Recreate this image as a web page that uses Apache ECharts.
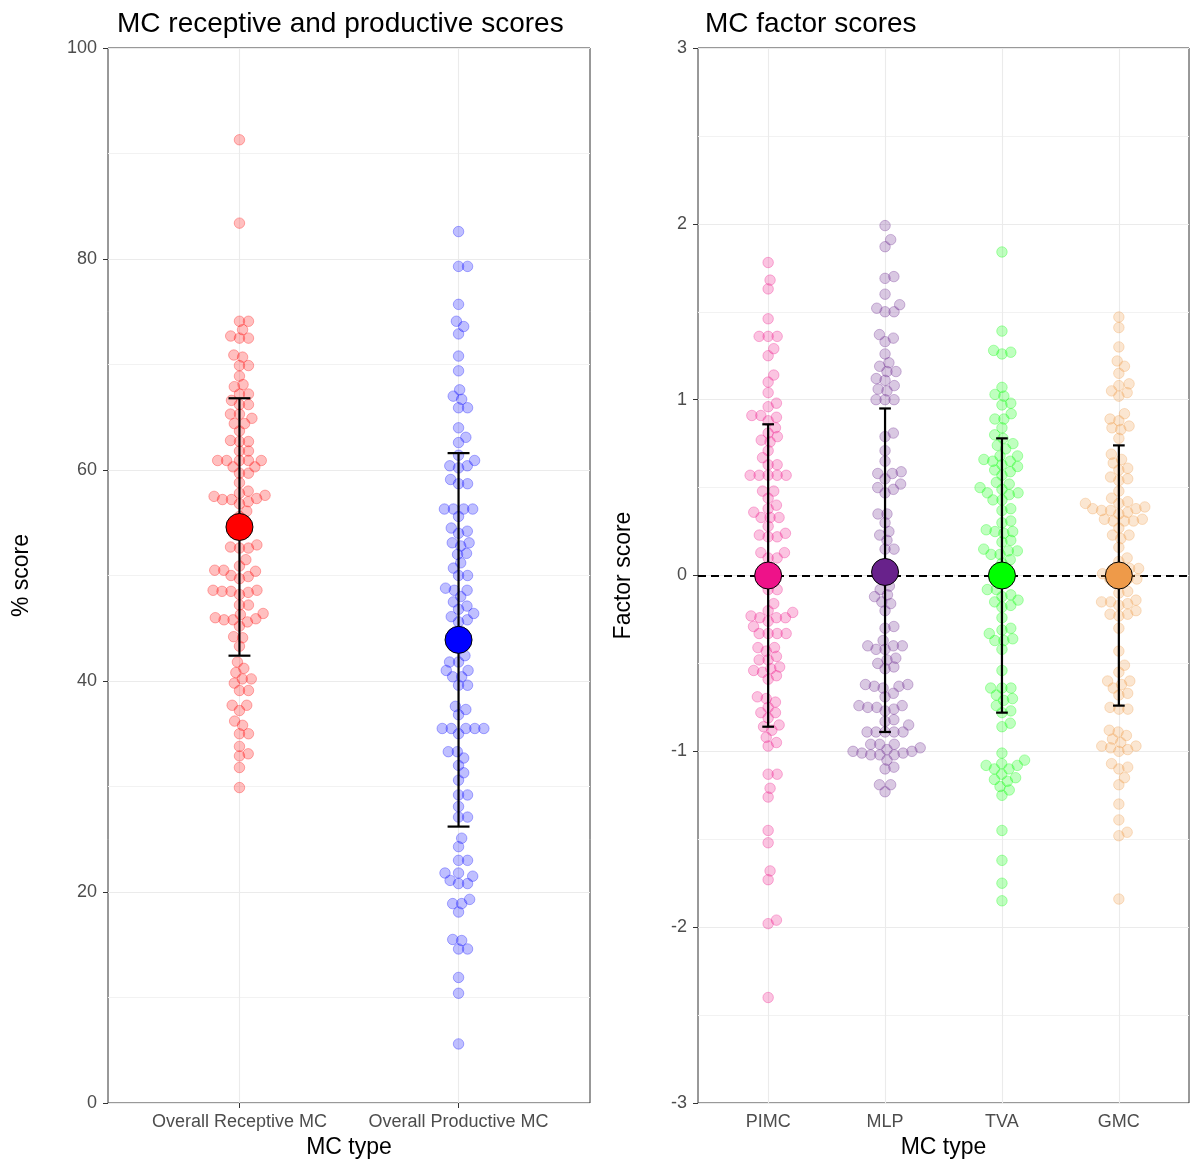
<!DOCTYPE html>
<html>
<head>
<meta charset="utf-8">
<script src="https://cdn.jsdelivr.net/npm/echarts@6/dist/echarts.min.js"></script>
<style>
  html, body { margin: 0; padding: 0; background: #fff; }
  #chart { width: 1190px; height: 1159px; }
</style>
</head>
<body>
<div id="chart"></div>
<script>
// ---- data ----
const leftCategories = ['Overall Receptive MC', 'Overall Productive MC']
const rightCategories = ['PIMC', 'MLP', 'TVA', 'GMC']

const receptiveScores = [91.3, 83.4, 74.1, 74.1, 73.3, 72.7, 72.5, 72.5, 70.9, 70.7, 69.9, 69.9, 68.9, 68.1, 67.9,
  67.2, 67.2, 66.6, 66.2, 66.2, 65.3, 65.3, 64.9, 64.4, 64.4, 63.7, 62.8, 62.7, 62.7, 61.8, 61.8, 60.9, 60.9, 60.9,
  60.9, 60.9, 60.3, 60.3, 59.7, 59.7, 58.8, 58.0, 57.8, 57.6, 57.5, 57.3, 57.2, 57.2, 57.0, 56.8, 56.1, 55.6, 52.9,
  52.7, 52.6, 52.6, 51.5, 50.9, 50.5, 50.5, 50.4, 50.0, 49.9, 49.7, 48.6, 48.6, 48.5, 48.5, 48.4, 48.2, 47.2, 47.2,
  46.4, 46.3, 46.0, 45.9, 45.8, 45.8, 45.6, 45.2, 44.2, 44.1, 43.3, 41.8, 41.2, 40.8, 40.2, 40.2, 39.8, 39.1, 39.1,
  37.7, 37.7, 37.2, 36.2, 35.8, 35.0, 35.0, 33.8, 33.1, 32.9, 31.8, 29.9]
const productiveScores = [82.6, 79.3, 79.3, 75.7, 74.1, 73.6, 72.9, 70.8, 69.4, 67.6, 67.0, 66.7, 65.9, 65.9, 64.0,
  63.1, 62.6, 61.4, 60.9, 60.4, 60.4, 60.2, 59.1, 58.7, 58.7, 56.3, 56.3, 56.3, 56.3, 55.6, 54.5, 54.2, 54.0, 53.1,
  53.1, 52.8, 52.1, 52.0, 51.2, 50.7, 50.0, 50.0, 48.8, 48.6, 48.6, 48.0, 47.5, 47.1, 46.8, 46.4, 46.1, 45.8, 45.6,
  42.4, 41.8, 41.8, 41.0, 41.0, 40.4, 40.4, 39.6, 39.6, 37.6, 37.3, 36.8, 35.5, 35.5, 35.5, 35.5, 35.5, 35.0, 33.3,
  33.3, 32.7, 32.0, 31.3, 30.6, 29.2, 29.2, 28.1, 27.1, 27.1, 25.1, 24.3, 23.0, 23.0, 21.8, 21.8, 21.5, 21.1, 20.8,
  20.8, 19.3, 18.9, 18.9, 18.1, 15.5, 15.4, 14.6, 14.6, 11.9, 10.4, 5.6]

const pimcScores = [1.78, 1.68, 1.63, 1.46, 1.36, 1.36, 1.36, 1.29, 1.25, 1.14, 1.10, 1.04, 0.98, 0.96, 0.91, 0.91,
  0.90, 0.88, 0.84, 0.81, 0.79, 0.77, 0.76, 0.71, 0.67, 0.63, 0.63, 0.57, 0.57, 0.57, 0.57, 0.57, 0.48, 0.48, 0.44,
  0.40, 0.38, 0.36, 0.33, 0.33, 0.33, 0.28, 0.24, 0.23, 0.22, 0.22, 0.13, 0.13, 0.10, 0.10, -0.02, -0.03, -0.08,
  -0.08, -0.16, -0.20, -0.21, -0.23, -0.24, -0.24, -0.24, -0.26, -0.29, -0.33, -0.33, -0.33, -0.33, -0.41, -0.41,
  -0.43, -0.46, -0.48, -0.48, -0.52, -0.53, -0.54, -0.55, -0.57, -0.59, -0.69, -0.70, -0.72, -0.75, -0.78, -0.78,
  -0.81, -0.85, -0.86, -0.88, -0.92, -0.95, -0.97, -1.13, -1.13, -1.21, -1.26, -1.45, -1.52, -1.68, -1.73, -1.96,
  -1.98, -2.40]
const mlpScores = [1.99, 1.91, 1.87, 1.70, 1.69, 1.60, 1.54, 1.52, 1.50, 1.50, 1.37, 1.35, 1.33, 1.26, 1.21, 1.19,
  1.16, 1.16, 1.12, 1.11, 1.08, 1.06, 1.05, 1.00, 1.00, 1.00, 0.81, 0.79, 0.71, 0.65, 0.59, 0.58, 0.58, 0.55, 0.52,
  0.50, 0.49, 0.47, 0.35, 0.35, 0.30, 0.25, 0.23, 0.20, 0.15, 0.15, -0.06, -0.08, -0.11, -0.12, -0.15, -0.16,
  -0.20, -0.29, -0.30, -0.37, -0.40, -0.40, -0.40, -0.42, -0.42, -0.47, -0.48, -0.50, -0.52, -0.53, -0.62, -0.62,
  -0.63, -0.63, -0.64, -0.67, -0.69, -0.74, -0.74, -0.75, -0.75, -0.76, -0.77, -0.82, -0.83, -0.85, -0.89, -0.89,
  -0.89, -0.89, -0.89, -0.96, -0.96, -0.96, -0.98, -0.99, -1.00, -1.00, -1.01, -1.01, -1.02, -1.02, -1.02, -1.05,
  -1.09, -1.10, -1.19, -1.19, -1.23]
const tvaScores = [1.84, 1.39, 1.28, 1.27, 1.26, 1.07, 1.03, 1.02, 0.98, 0.97, 0.92, 0.89, 0.89, 0.84, 0.80, 0.78,
  0.75, 0.74, 0.72, 0.68, 0.68, 0.66, 0.65, 0.65, 0.63, 0.62, 0.60, 0.59, 0.57, 0.53, 0.52, 0.49, 0.50, 0.47, 0.47,
  0.46, 0.43, 0.43, 0.37, 0.38, 0.31, 0.30, 0.26, 0.24, 0.25, 0.25, 0.20, 0.19, 0.14, 0.14, 0.12, 0.09, 0.12, 0.15,
  0.07, -0.11, -0.12, -0.08, -0.08, -0.14, -0.15, -0.17, -0.18, -0.24, -0.30, -0.31, -0.33, -0.36, -0.37, -0.37,
  -0.42, -0.54, -0.64, -0.64, -0.64, -0.68, -0.70, -0.71, -0.74, -0.77, -0.78, -0.84, -0.86, -1.01, -1.05, -1.07,
  -1.08, -1.08, -1.10, -1.10, -1.13, -1.15, -1.16, -1.17, -1.20, -1.22, -1.25, -1.45, -1.62, -1.75, -1.85]
const gmcScores = [1.47, 1.41, 1.30, 1.22, 1.19, 1.15, 1.09, 1.08, 1.05, 1.04, 1.02, 0.92, 0.89, 0.88, 0.85, 0.84,
  0.83, 0.78, 0.69, 0.66, 0.64, 0.61, 0.60, 0.56, 0.55, 0.54, 0.48, 0.42, 0.44, 0.41, 0.41, 0.39, 0.38, 0.37, 0.37,
  0.38, 0.36, 0.35, 0.32, 0.32, 0.31, 0.31, 0.31, 0.27, 0.23, 0.23, 0.21, 0.16, 0.10, 0.08, 0.04, 0.03, 0.04, 0.03,
  0.01, -0.02, -0.02, -0.02, -0.02, -0.09, -0.10, -0.14, -0.15, -0.15, -0.16, -0.17, -0.20, -0.22, -0.22, -0.23,
  -0.30, -0.43, -0.51, -0.55, -0.60, -0.60, -0.62, -0.64, -0.67, -0.68, -0.75, -0.76, -0.76, -0.88, -0.89, -0.91,
  -0.93, -0.95, -0.97, -0.98, -0.97, -0.99, -1.00, -1.07, -1.09, -1.10, -1.15, -1.19, -1.30, -1.39, -1.46, -1.48,
  -1.84]

// mean and mean +/- sd
const leftMeans = [54.6, 43.9]
const leftLower = [42.4, 26.2]
const leftUpper = [66.8, 61.6]
const rightMeans = [0.0, 0.02, 0.0, 0.0]
const rightLower = [-0.86, -0.89, -0.78, -0.74]
const rightUpper = [0.86, 0.95, 0.78, 0.74]

const leftColors = ['255,0,0', '0,0,255']
const rightColors = ['238,18,137', '104,34,139', '0,255,0', '238,154,73']

// ---- layout ----
const gridTop = 48
const gridHeight = 1055
const leftGrid = { left: 108, width: 482 }
const rightGrid = { left: 698, width: 491 }

const FONT = 'Liberation Sans, Arial, sans-serif'
const gridColor = '#EBEBEB'

// beeswarm: place points in ascending order, nearest free spot to the centre (pixel space)
function swarmOffsets(values, pxPerY, d) {
  const order = values.map((v, i) => i).sort((a, b) => values[a] - values[b])
  const placed = []
  const out = new Array(values.length)
  for (const i of order) {
    const y = values[i] * pxPerY
    const near = placed.filter(p => Math.abs(p.y - y) < d)
    const cands = [0]
    near.forEach(p => {
      const dx = Math.sqrt(d * d - (p.y - y) * (p.y - y))
      cands.push(p.x + dx, p.x - dx)
    })
    cands.sort((a, b) => Math.abs(a) - Math.abs(b))
    let x = 0
    for (const c of cands) {
      if (near.every(p => (p.x - c) ** 2 + (p.y - y) ** 2 >= d * d - 0.01)) { x = c; break }
    }
    placed.push({ x, y })
    out[i] = x
  }
  return out
}

function swarmSeries(values, catPos, color, pxPerX, pxPerY, axisIdx) {
  const offs = swarmOffsets(values, pxPerY, 9)
  return {
    type: 'scatter',
    xAxisIndex: axisIdx,
    yAxisIndex: axisIdx,
    symbolSize: 10.5,
    z: 2,
    itemStyle: {
      color: 'rgba(' + color + ',0.25)',
      borderColor: 'rgba(' + color + ',0.3)',
      borderWidth: 1,
      opacity: 1
    },
    data: values.map((v, i) => [catPos + offs[i] / pxPerX, v])
  }
}

function errorBarSeries(lower, upper, axisIdx) {
  return {
    type: 'custom',
    xAxisIndex: axisIdx,
    yAxisIndex: axisIdx,
    z: 3,
    data: lower.map((lo, i) => [i + 1, lo, upper[i]]),
    renderItem: function (params, api) {
      const x = api.value(0)
      const top = api.coord([x, api.value(2)])
      const bot = api.coord([x, api.value(1)])
      const l = api.coord([x - 0.05, 0])[0]
      const r = api.coord([x + 0.05, 0])[0]
      const st = () => ({ stroke: '#000', lineWidth: 2.2, fill: null })
      return {
        type: 'group',
        children: [
          { type: 'line', shape: { x1: top[0], y1: top[1], x2: bot[0], y2: bot[1] }, style: st() },
          { type: 'line', shape: { x1: l, y1: top[1], x2: r, y2: top[1] }, style: st() },
          { type: 'line', shape: { x1: l, y1: bot[1], x2: r, y2: bot[1] }, style: st() }
        ]
      }
    }
  }
}

function meanSeries(means, colors, axisIdx) {
  return {
    type: 'scatter',
    xAxisIndex: axisIdx,
    yAxisIndex: axisIdx,
    symbolSize: 27,
    z: 4,
    data: means.map((m, i) => ({
      value: [i + 1, m],
      itemStyle: { color: 'rgb(' + colors[i] + ')', borderColor: '#000', borderWidth: 1, opacity: 1 }
    }))
  }
}

function gridLineSeries(cats, axisIdx, withZero) {
  const lines = cats.map((c, i) => ({ xAxis: i + 1 }))
  const s = {
    type: 'line',
    xAxisIndex: axisIdx,
    yAxisIndex: axisIdx,
    data: [],
    z: 1,
    markLine: {
      silent: true,
      z: 1,
      symbol: 'none',
      animation: false,
      label: { show: false },
      lineStyle: { color: gridColor, width: 1.1, type: 'solid' },
      data: lines
    }
  }
  if (withZero) {
    s.markLine.data = lines.concat([{ yAxis: 0, lineStyle: { color: '#000', width: 1.8, type: [8, 5] } }])
  }
  return s
}

function xAxisFor(cats, gridIdx) {
  const vals = cats.map((c, i) => i + 1)
  return {
    type: 'value',
    gridIndex: gridIdx,
    min: 0.4,
    max: cats.length + 0.6,
    axisLine: { show: false },
    splitLine: { show: false },
    axisTick: { show: true, customValues: vals, length: 5, lineStyle: { color: '#333' } },
    axisLabel: {
      customValues: vals,
      margin: 10,
      color: '#4D4D4D',
      fontSize: 18,
      fontFamily: FONT,
      formatter: v => cats[Math.round(v) - 1]
    },
    name: 'MC type',
    nameLocation: 'middle',
    nameGap: 33,
    nameTextStyle: { color: '#000', fontSize: 23, fontFamily: FONT }
  }
}

function yAxisFor(min, max, interval, name, gap, gridIdx) {
  return {
    type: 'value',
    gridIndex: gridIdx,
    min, max, interval,
    axisLine: { show: false },
    axisTick: { show: true, length: 5, lineStyle: { color: '#333' } },
    axisLabel: { margin: 11, color: '#4D4D4D', fontSize: 18, fontFamily: FONT },
    splitLine: { show: true, lineStyle: { color: gridColor, width: 1.1 } },
    minorTick: { show: false, splitNumber: 2 },
    minorSplitLine: { show: true, lineStyle: { color: '#F2F2F2', width: 1 } },
    name,
    nameLocation: 'middle',
    nameGap: gap,
    nameTextStyle: { color: '#000', fontSize: 23, fontFamily: FONT }
  }
}

const leftPxX = leftGrid.width / 2.2
const rightPxX = rightGrid.width / 4.2
const leftPxY = gridHeight / 100
const rightPxY = gridHeight / 6

const series = [
  gridLineSeries(leftCategories, 0, false),
  gridLineSeries(rightCategories, 1, true),
  swarmSeries(receptiveScores, 1, leftColors[0], leftPxX, leftPxY, 0),
  swarmSeries(productiveScores, 2, leftColors[1], leftPxX, leftPxY, 0),
  swarmSeries(pimcScores, 1, rightColors[0], rightPxX, rightPxY, 1),
  swarmSeries(mlpScores, 2, rightColors[1], rightPxX, rightPxY, 1),
  swarmSeries(tvaScores, 3, rightColors[2], rightPxX, rightPxY, 1),
  swarmSeries(gmcScores, 4, rightColors[3], rightPxX, rightPxY, 1),
  errorBarSeries(leftLower, leftUpper, 0),
  errorBarSeries(rightLower, rightUpper, 1),
  meanSeries(leftMeans, leftColors, 0),
  meanSeries(rightMeans, rightColors, 1)
]

const chart = echarts.init(document.getElementById('chart'), null, { renderer: 'canvas' })
chart.setOption({
  animation: false,
  backgroundColor: '#fff',
  title: [
    { text: 'MC receptive and productive scores', left: 112, top: 5,
      textStyle: { color: '#000', fontSize: 28, fontWeight: 'normal', fontFamily: FONT } },
    { text: 'MC factor scores', left: 700, top: 5,
      textStyle: { color: '#000', fontSize: 28, fontWeight: 'normal', fontFamily: FONT } }
  ],
  grid: [
    { left: leftGrid.left, width: leftGrid.width, top: gridTop, height: gridHeight, outerBoundsMode: 'none',
      show: true, borderColor: '#333', borderWidth: 1, backgroundColor: 'transparent' },
    { left: rightGrid.left, width: rightGrid.width, top: gridTop, height: gridHeight, outerBoundsMode: 'none',
      show: true, borderColor: '#333', borderWidth: 1, backgroundColor: 'transparent' }
  ],
  xAxis: [xAxisFor(leftCategories, 0), xAxisFor(rightCategories, 1)],
  yAxis: [
    yAxisFor(0, 100, 20, '% score', 75, 0),
    yAxisFor(-3, 3, 1, 'Factor score', 63, 1)
  ],
  series
})
</script>
</body>
</html>
